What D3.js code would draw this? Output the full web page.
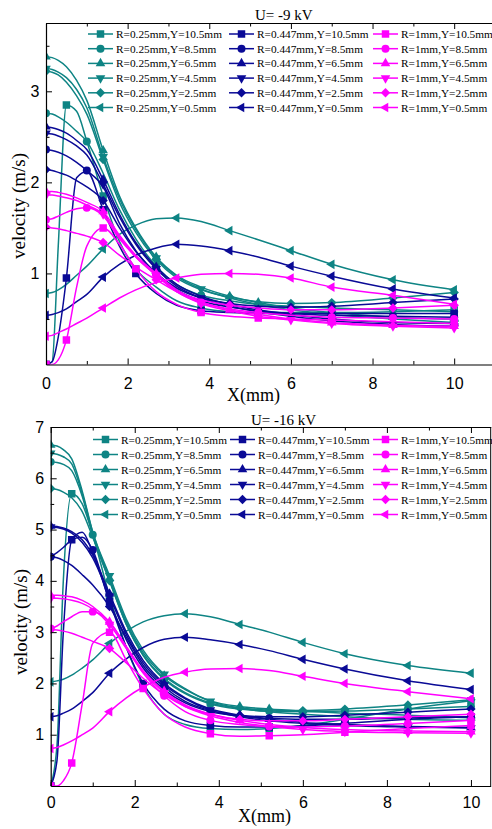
<!DOCTYPE html>
<html>
<head>
<meta charset="utf-8">
<script src="https://cdn.jsdelivr.net/npm/d3@7"></script>
<style>
  body { margin: 0; background: #fff; }
  svg { display: block; }
</style>
</head>
<body>
<svg id="chart" width="492" height="829"></svg>
<script>
// x positions (mm) shared by every profile
const xGrid = [0, 0.15, 0.3, 0.5, 0.75, 1.0, 1.4, 1.8, 2.2, 2.7, 3.2, 3.8, 4.5, 5.2, 6, 7, 8.5, 10];
const radii = ["0.25", "0.447", "1"];
const yPos = ["10.5", "8.5", "6.5", "4.5", "2.5", "0.5"];
const shapes = ["square", "circle", "up", "down", "diamond", "left"];
// which grid points carry a marker, one list per Y position
const markIdx = [
  [0, 3, 6, 8, 11, 13, 15, 17],
  [0, 5, 9, 11, 13, 15, 16, 17],
  [0, 6, 9, 12, 13, 15, 16, 17],
  [0, 6, 9, 11, 14, 15, 16, 17],
  [0, 6, 9, 12, 14, 15, 16, 17],
  [0, 6, 10, 12, 14, 15, 16, 17]
];

// U = -9 kV, rows: Y=10.5, 8.5, 6.5, 4.5, 2.5, 0.5
const topTeal = [
  [0, 0.03, 1.3, 2.85, 2.78, 2.45, 1.85, 1.35, 1.05, 0.85, 0.7, 0.62, 0.58, 0.57, 0.57, 0.57, 0.58, 0.6],
  [2.76, 2.75, 2.72, 2.66, 2.56, 2.45, 2.1, 1.7, 1.38, 1.08, 0.88, 0.76, 0.7, 0.66, 0.64, 0.62, 0.6, 0.58],
  [3.38, 3.37, 3.34, 3.27, 3.12, 2.9, 2.35, 1.85, 1.5, 1.18, 0.98, 0.85, 0.75, 0.68, 0.62, 0.57, 0.52, 0.5],
  [3.25, 3.24, 3.21, 3.15, 3.02, 2.82, 2.28, 1.82, 1.48, 1.17, 0.97, 0.83, 0.73, 0.66, 0.6, 0.55, 0.5, 0.46],
  [3.22, 3.21, 3.18, 3.1, 2.95, 2.75, 2.25, 1.78, 1.45, 1.15, 0.95, 0.82, 0.74, 0.69, 0.67, 0.68, 0.73, 0.79],
  [0.78, 0.79, 0.82, 0.88, 0.98, 1.08, 1.27, 1.43, 1.53, 1.6, 1.61, 1.57, 1.47, 1.37, 1.25, 1.1, 0.93, 0.82]
];
const topNavy = [
  [0, 0.03, 0.3, 0.95, 2.05, 2.12, 1.7, 1.3, 1.0, 0.78, 0.65, 0.59, 0.57, 0.56, 0.56, 0.56, 0.56, 0.56],
  [2.36, 2.35, 2.33, 2.29, 2.22, 2.13, 1.95, 1.55, 1.25, 1.0, 0.82, 0.7, 0.63, 0.59, 0.56, 0.54, 0.53, 0.52],
  [2.61, 2.6, 2.58, 2.54, 2.46, 2.36, 2.03, 1.65, 1.34, 1.07, 0.88, 0.75, 0.66, 0.6, 0.55, 0.5, 0.46, 0.45],
  [2.54, 2.53, 2.51, 2.47, 2.4, 2.3, 1.98, 1.62, 1.32, 1.05, 0.86, 0.73, 0.64, 0.58, 0.53, 0.48, 0.44, 0.42],
  [2.14, 2.13, 2.11, 2.08, 2.02, 1.95, 1.8, 1.5, 1.24, 1.0, 0.84, 0.73, 0.67, 0.64, 0.63, 0.64, 0.68, 0.72],
  [0.54, 0.55, 0.57, 0.61, 0.69, 0.77, 0.96, 1.1, 1.2, 1.28, 1.32, 1.3, 1.25, 1.18, 1.08, 0.97, 0.83, 0.73]
];
const topMagenta = [
  [0, 0, 0.05, 0.27, 0.85, 1.3, 1.5, 1.32, 1.05, 0.8, 0.66, 0.57, 0.53, 0.51, 0.5, 0.49, 0.47, 0.45],
  [1.59, 1.6, 1.63, 1.67, 1.71, 1.72, 1.63, 1.38, 1.18, 0.98, 0.8, 0.68, 0.61, 0.57, 0.54, 0.52, 0.51, 0.5],
  [1.9, 1.9, 1.89, 1.87, 1.83, 1.78, 1.68, 1.42, 1.2, 1.0, 0.82, 0.69, 0.6, 0.55, 0.5, 0.46, 0.43, 0.42],
  [1.86, 1.86, 1.85, 1.83, 1.8, 1.75, 1.65, 1.4, 1.18, 0.98, 0.8, 0.67, 0.59, 0.53, 0.49, 0.45, 0.42, 0.4],
  [1.51, 1.5, 1.49, 1.47, 1.44, 1.41, 1.34, 1.2, 1.07, 0.93, 0.8, 0.71, 0.65, 0.62, 0.6, 0.6, 0.62, 0.65],
  [0.31, 0.32, 0.35, 0.39, 0.45, 0.51, 0.62, 0.73, 0.82, 0.9, 0.95, 0.99, 1.0, 0.99, 0.95, 0.85, 0.76, 0.66]
];

// U = -16 kV
const botTeal = [
  [0, 0.8, 4.0, 5.7, 5.5, 4.9, 3.7, 2.7, 1.95, 1.4, 1.2, 1.12, 1.1, 1.12, 1.18, 1.3, 1.5, 1.66],
  [6.32, 6.31, 6.27, 6.15, 5.65, 4.9, 4.0, 3.15, 2.55, 2.08, 1.8, 1.6, 1.5, 1.46, 1.45, 1.46, 1.5, 1.55],
  [6.65, 6.63, 6.56, 6.38, 5.75, 4.95, 4.05, 3.2, 2.6, 2.15, 1.88, 1.66, 1.55, 1.5, 1.46, 1.42, 1.38, 1.33],
  [6.49, 6.47, 6.42, 6.28, 5.7, 4.95, 4.1, 3.25, 2.65, 2.18, 1.9, 1.65, 1.52, 1.45, 1.4, 1.35, 1.3, 1.28],
  [5.8, 5.78, 5.73, 5.62, 5.35, 4.85, 4.0, 3.15, 2.55, 2.1, 1.82, 1.62, 1.52, 1.48, 1.47, 1.5, 1.58, 1.68],
  [2.03, 2.05, 2.08, 2.16, 2.3, 2.46, 2.78, 3.02, 3.2, 3.32, 3.36, 3.3, 3.15, 3.0, 2.8, 2.58, 2.35, 2.2]
];
const botNavy = [
  [0, 0.5, 3.0, 4.8, 4.95, 4.55, 3.6, 2.7, 2.0, 1.5, 1.27, 1.18, 1.15, 1.15, 1.17, 1.22, 1.3, 1.35],
  [4.47, 4.55, 4.65, 4.8, 4.85, 4.6, 3.6, 2.85, 2.3, 1.88, 1.62, 1.45, 1.36, 1.32, 1.3, 1.3, 1.33, 1.35],
  [5.07, 5.06, 5.03, 4.96, 4.8, 4.5, 3.75, 3.0, 2.45, 2.0, 1.72, 1.5, 1.38, 1.3, 1.24, 1.2, 1.16, 1.14],
  [5.05, 5.04, 5.01, 4.93, 4.75, 4.45, 3.7, 2.95, 2.4, 1.97, 1.7, 1.48, 1.35, 1.27, 1.22, 1.18, 1.15, 1.13],
  [4.47, 4.45, 4.4, 4.3, 4.12, 3.92, 3.5, 2.9, 2.35, 1.93, 1.65, 1.47, 1.38, 1.35, 1.35, 1.38, 1.44, 1.5],
  [1.35, 1.37, 1.42, 1.5, 1.65, 1.82, 2.2, 2.48, 2.7, 2.86, 2.9, 2.85, 2.76, 2.64, 2.47, 2.28, 2.05, 1.88]
];
const botMagenta = [
  [0, 0, 0.1, 0.45, 1.6, 2.78, 3.0, 2.45, 1.9, 1.4, 1.15, 1.02, 0.97, 0.98, 1.0, 1.05, 1.12, 1.18],
  [3.07, 3.12, 3.2, 3.3, 3.4, 3.4, 3.2, 2.7, 2.2, 1.76, 1.45, 1.28, 1.2, 1.16, 1.15, 1.17, 1.22, 1.28],
  [3.72, 3.72, 3.71, 3.69, 3.62, 3.5, 3.2, 2.72, 2.25, 1.85, 1.58, 1.4, 1.28, 1.2, 1.14, 1.1, 1.07, 1.06],
  [3.66, 3.66, 3.65, 3.62, 3.56, 3.45, 3.15, 2.68, 2.22, 1.82, 1.55, 1.37, 1.24, 1.16, 1.1, 1.06, 1.04, 1.03],
  [3.05, 3.04, 3.02, 2.98, 2.9, 2.82, 2.68, 2.4, 2.1, 1.78, 1.55, 1.4, 1.3, 1.27, 1.27, 1.3, 1.35, 1.4],
  [0.73, 0.75, 0.8, 0.88, 1.0, 1.13, 1.45, 1.72, 1.93, 2.12, 2.22, 2.28, 2.29, 2.25, 2.14, 2.0, 1.84, 1.7]
];

const xTicks = [0, 2, 4, 6, 8, 10];
const topYTicks = [1, 2, 3];
const botYTicks = [1, 2, 3, 4, 5, 6, 7];

const colors = ["#0e8484", "#0a0a96", "#ff00ff"];
const serif = "'Liberation Serif', 'Times New Roman', serif";
const sans = "'Liberation Sans', Arial, sans-serif";

const svg = d3.select("#chart");

function symbolPath(shape) {
  if (shape === "square") return d3.symbol(d3.symbolSquare, 56)();
  if (shape === "circle") return d3.symbol(d3.symbolCircle, 50)();
  if (shape === "diamond") return d3.symbol(d3.symbolSquare, 44)();
  return d3.symbol(d3.symbolTriangle, 40)();
}
function symbolRotate(shape) {
  if (shape === "down") return 180;
  if (shape === "left") return -90;
  if (shape === "diamond") return 45;
  return 0;
}

function drawPanel(p) {
  const x = d3.scaleLinear().domain([0, p.xMax]).range([p.left, p.right]);
  const y = d3.scaleLinear().domain([0, p.yMax]).range([p.bottom, p.top]);
  const g = svg.append("g");

  g.append("clipPath").attr("id", p.id)
    .append("rect")
    .attr("x", p.left).attr("y", p.top)
    .attr("width", p.right - p.left).attr("height", p.bottom - p.top);

  const plot = g.append("g").attr("clip-path", `url(#${p.id})`);
  const line = d3.line()
    .x((d, i) => x(xGrid[i]))
    .y(d => y(d))
    .curve(d3.curveMonotoneX);

  p.series.forEach((group, c) => {
    group.forEach((vals, r) => {
      plot.append("path")
        .attr("d", line(vals))
        .attr("fill", "none")
        .attr("stroke", colors[c])
        .attr("stroke-width", 1.5);
      plot.selectAll(null)
        .data(markIdx[r])
        .join("path")
        .attr("d", symbolPath(shapes[r]))
        .attr("transform", i => `translate(${x(xGrid[i])},${y(vals[i])}) rotate(${symbolRotate(shapes[r])})`)
        .attr("fill", colors[c]);
    });
  });

  // axes, ticks pointing inwards
  const xMinor = d3.range(1, p.xMax, 2);
  const yMinor = d3.range(0.5, p.yMax, 1);
  g.append("g").attr("transform", `translate(0,${p.bottom})`)
    .call(d3.axisBottom(x).tickValues(xTicks).tickFormat(d3.format("d")).tickSizeInner(-6).tickSizeOuter(0).tickPadding(p.xPad))
    .call(a => a.selectAll("text").attr("font-family", sans).attr("font-size", 16).attr("fill", "#000"));
  g.append("g").attr("transform", `translate(0,${p.bottom})`)
    .call(d3.axisBottom(x).tickValues(xMinor).tickSize(-3.5).tickFormat(""))
    .call(a => a.select(".domain").remove());
  g.append("g").attr("transform", `translate(0,${p.top})`)
    .call(d3.axisTop(x).tickValues(xTicks).tickSizeInner(-6).tickSizeOuter(0).tickFormat(""));
  g.append("g").attr("transform", `translate(0,${p.top})`)
    .call(d3.axisTop(x).tickValues(xMinor).tickSize(-3.5).tickFormat(""))
    .call(a => a.select(".domain").remove());
  g.append("g").attr("transform", `translate(${p.left},0)`)
    .call(d3.axisLeft(y).tickValues(p.yTicks).tickFormat(d3.format("d")).tickSizeInner(-6).tickSizeOuter(0).tickPadding(6.5))
    .call(a => a.selectAll("text").attr("font-family", sans).attr("font-size", 16).attr("fill", "#000"));
  g.append("g").attr("transform", `translate(${p.left},0)`)
    .call(d3.axisLeft(y).tickValues(yMinor).tickSize(-3.5).tickFormat(""))
    .call(a => a.select(".domain").remove());
  g.append("line")
    .attr("x1", p.right).attr("x2", p.right)
    .attr("y1", p.top).attr("y2", p.bottom)
    .attr("stroke", "#000");
  g.selectAll(".domain").attr("stroke-width", 1.2);

  // titles
  g.append("text").attr("x", p.titleX).attr("y", p.titleY)
    .attr("font-family", serif).attr("font-size", 15).text(p.title);
  g.append("text")
    .attr("transform", `translate(${p.yLabelX},${p.yLabelY}) rotate(-90)`)
    .attr("text-anchor", "middle")
    .attr("font-family", serif).attr("font-size", 19)
    .text("velocity (m/s)");
  g.append("text").attr("x", p.xLabelX).attr("y", p.xLabelY)
    .attr("font-family", serif).attr("font-size", 18).text("X(mm)");

  // legend
  radii.forEach((rad, c) => {
    yPos.forEach((yv, r) => {
      const ly = p.legTop + r * p.legStep;
      const lx = p.legCols[c];
      g.append("line")
        .attr("x1", lx).attr("x2", lx + p.legLen)
        .attr("y1", ly).attr("y2", ly)
        .attr("stroke", colors[c]).attr("stroke-width", 1.5);
      g.append("path")
        .attr("d", symbolPath(shapes[r]))
        .attr("transform", `translate(${lx + p.legLen / 2},${ly}) rotate(${symbolRotate(shapes[r])})`)
        .attr("fill", colors[c]);
      g.append("text")
        .attr("x", lx + p.legLen + 3).attr("y", ly + 4)
        .attr("font-family", serif).attr("font-size", 11.3)
        .text(`R=${rad}mm,Y=${yv}mm`);
    });
  });
}

drawPanel({
  id: "clipTop", title: "U= -9 kV",
  left: 46, right: 495, top: 23, bottom: 364.5, xMax: 11, yMax: 3.75,
  yTicks: topYTicks, xPad: 13,
  series: [topTeal, topNavy, topMagenta],
  titleX: 255, titleY: 20,
  yLabelX: 25, yLabelY: 206, xLabelX: 227, xLabelY: 401,
  legTop: 34, legStep: 14.7, legCols: [88, 229, 373], legLen: 25
});

drawPanel({
  id: "clipBot", title: "U= -16 kV",
  left: 50.7, right: 490.7, top: 427, bottom: 786, xMax: 10.47, yMax: 7,
  yTicks: botYTicks, xPad: 10.5,
  series: [botTeal, botNavy, botMagenta],
  titleX: 251, titleY: 425,
  yLabelX: 27, yLabelY: 622, xLabelX: 238, xLabelY: 822,
  legTop: 439.5, legStep: 15, legCols: [93, 230, 373], legLen: 25
});
</script>
</body>
</html>
